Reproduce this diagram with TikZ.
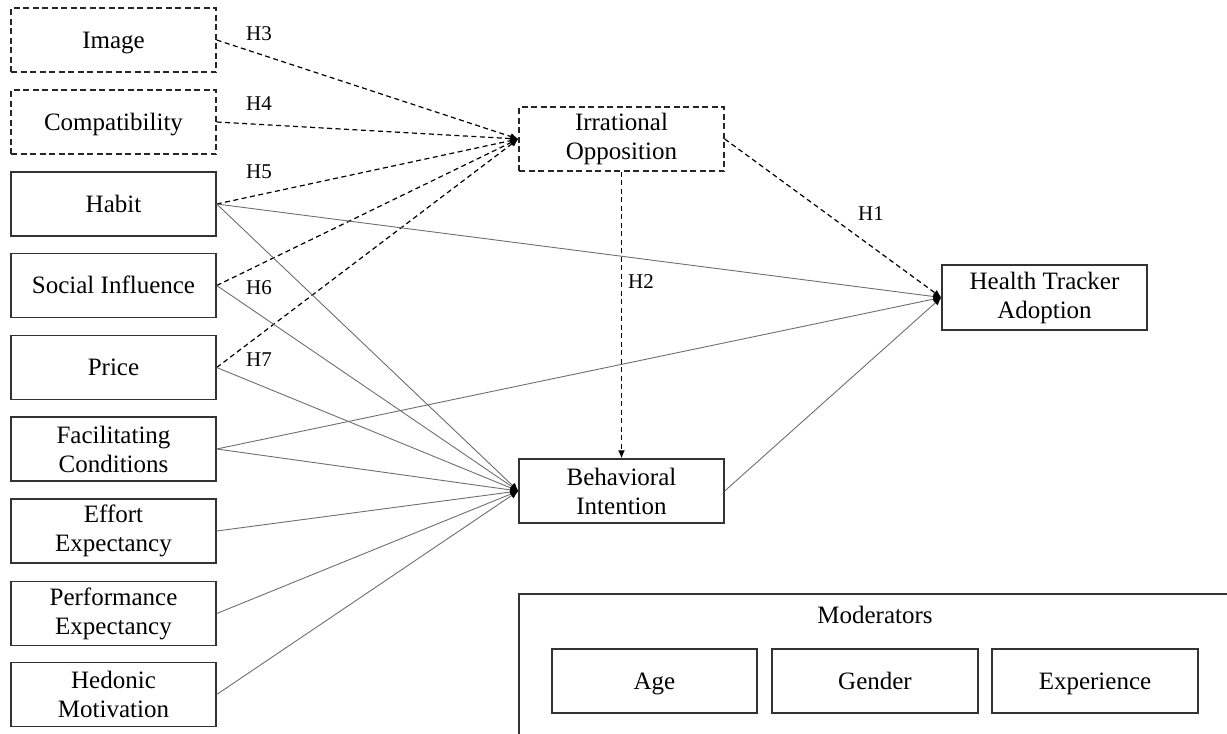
\documentclass[tikz,border=0pt]{standalone}
\usepackage{fontspec}
\setmainfont{Liberation Serif}
\usetikzlibrary{arrows.meta}
\definecolor{boxc}{HTML}{333333}
\definecolor{linec}{HTML}{6E6E6E}
\begin{document}
\begin{tikzpicture}[x=1pt,y=-1pt,
 box/.style={draw=boxc, line width=1.4pt, minimum width=205pt, minimum height=64pt, inner sep=0pt, align=center, font=\fontsize{25}{29}\selectfont},
 one/.style={text height=16pt, text depth=0pt},
 dbox/.style={box, draw=black!85, dash pattern=on 6pt off 3.5pt},
 sline/.style={draw=linec, line width=0.9pt},
 dline/.style={draw=black, line width=1.2pt, dash pattern=on 5pt off 3.5pt},
 tip/.style={-{Latex[length=8pt,width=7pt,black]}},
 lab/.style={font=\fontsize{21}{24}\selectfont, inner sep=0pt},
 modc/.style={font=\fontsize{25}{29}\selectfont, inner sep=0pt}]
\useasboundingbox (0,0) rectangle (1227,734);
% left column
\node[dbox, one] (img) at (113.5,40) {Image};
\node[dbox, one] (com) at (113.5,122) {Compatibility};
\node[box, one] (hab) at (113.5,204) {Habit};
\node[box, one] (soc) at (113.5,285.5) {Social Influence};
\node[box, one] (pri) at (113.5,367.5) {Price};
\node[box] (fac) at (113.5,449) {Facilitating\\Conditions};
\node[box] (eff) at (113.5,531) {Effort\\Expectancy};
\node[box] (per) at (113.5,613.5) {Performance\\Expectancy};
\node[box] (hed) at (113.5,694.5) {Hedonic\\Motivation};
% middle / right
\node[dbox] (io) at (621.5,139) {Irrational\\Opposition};
\node[box] (bi) at (621.5,491) {Behavioral\\Intention};
\node[box, minimum height=65pt] (hta) at (1044.5,297.5) {Health Tracker\\Adoption};
% moderators
\coordinate (mtr) at (1227,594);
\coordinate (mtl) at (519,594);
\coordinate (mbl) at (519,734);
\draw[boxc, line width=1.4pt] (mtr) -- (mtl) -- (mbl);
\node[modc] (mod) at (875,615) {Moderators};
\node[box, one, minimum width=205pt] (age) at (654.5,681) {Age};
\node[box, one, minimum width=206pt] (gen) at (875,681) {Gender};
\node[box, one, minimum width=206pt] (exp) at (1095,681) {Experience};
% dashed hypotheses to irrational opposition
\draw[dline, tip] (img.east) -- (io.west);
\draw[dline, tip] (com.east) -- (io.west);
\draw[dline, tip] (hab.east) -- (io.west);
\draw[dline, tip] (soc.east) -- (io.west);
\draw[dline, tip] (pri.east) -- (io.west);
\draw[dline, tip] (io.east) -- (hta.west);
\draw[dline, tip] (io.south) -- (bi.north);
% solid lines to behavioral intention
\foreach \s in {hab,soc,pri,fac,eff,per,hed}
  \draw[sline, tip] (\s.east) -- (bi.west);
\draw[sline, tip] (hab.east) -- (hta.west);
\draw[sline, tip] (fac.east) -- (hta.west);
\draw[sline, tip] (bi.east) -- (hta.west);
% labels
\node[lab] (h3) at (259,34) {H3};
\node[lab] (h4) at (259,104) {H4};
\node[lab] (h5) at (259,172) {H5};
\node[lab] (h6) at (259,288) {H6};
\node[lab] (h7) at (259,360) {H7};
\node[lab] (h1) at (871,214) {H1};
\node[lab] (h2) at (641,282) {H2};
\end{tikzpicture}
\end{document}
